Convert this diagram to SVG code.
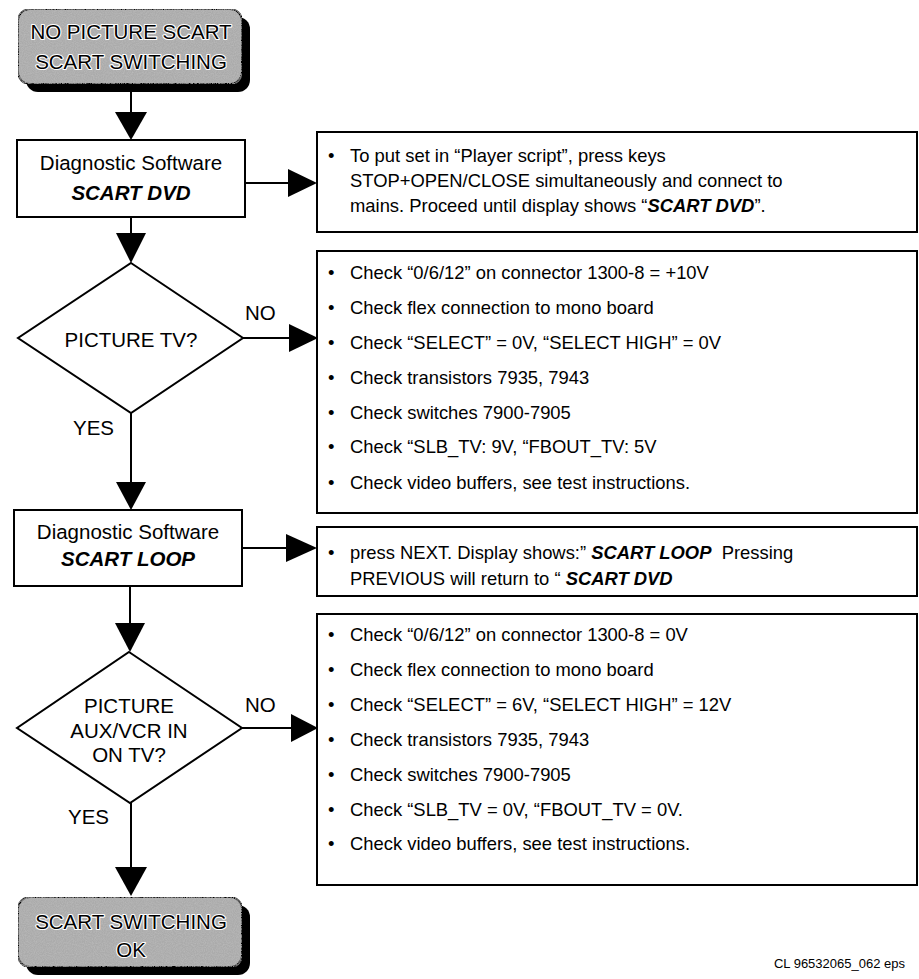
<svg xmlns="http://www.w3.org/2000/svg" width="919" height="979" viewBox="0 0 919 979">
<style>
  .box { fill: #fff; stroke: #000; stroke-width: 2; }
  .line { stroke: #000; stroke-width: 2; fill: none; }
  .head { fill: #000; stroke: none; }
  .t { font-family: "Liberation Sans", Arial, sans-serif; fill: #000; }
  .big { font-size: 20.5px; }
  .body { font-size: 18.4px; }
  .bi { font-weight: bold; font-style: italic; }
  .mid { text-anchor: middle; }
  .term { fill: #ababab; stroke: #000; stroke-width: 2; }
  .shadow { fill: #000; }
  .halo { stroke: #fff; stroke-width: 2.2px; paint-order: stroke; stroke-linejoin: round; }
</style>
<defs>
  <filter id="grain" x="0" y="0" width="100%" height="100%">
    <feTurbulence type="fractalNoise" baseFrequency="0.9" numOctaves="2" seed="3" result="n"/>
    <feColorMatrix in="n" type="matrix" values="0 0 0 0 0.5  0 0 0 0 0.5  0 0 0 0 0.5  0 0 0 1.4 -0.45" result="g"/>
    <feComposite in="g" in2="SourceGraphic" operator="in" result="gc"/>
    <feMerge><feMergeNode in="SourceGraphic"/><feMergeNode in="gc"/></feMerge>
  </filter>
</defs>

<g id="connectors">
  <line class="line" x1="131" y1="92" x2="131" y2="114"/>
  <polygon class="head" points="115,112 147,112 131,140"/>
  <line class="line" x1="245" y1="183" x2="290" y2="183"/>
  <polygon class="head" points="288,169 288,197 317,183"/>
  <line class="line" x1="131" y1="217" x2="131" y2="235"/>
  <polygon class="head" points="116,233 146,233 131,263"/>
  <line class="line" x1="243" y1="338" x2="291" y2="338"/>
  <polygon class="head" points="289,324 289,352 318,338"/>
  <line class="line" x1="131" y1="413" x2="131" y2="484"/>
  <polygon class="head" points="116,482 146,482 131,510"/>
  <line class="line" x1="242" y1="548" x2="288" y2="548"/>
  <polygon class="head" points="286,534 286,562 317,548"/>
  <line class="line" x1="130" y1="586" x2="130" y2="625"/>
  <polygon class="head" points="115,623 145,623 130,652"/>
  <line class="line" x1="242" y1="728" x2="293" y2="728"/>
  <polygon class="head" points="291,714 291,742 318,728"/>
  <line class="line" x1="131" y1="803" x2="131" y2="869"/>
  <polygon class="head" points="115,867 147,867 131,896"/>
  <text class="t big" x="245" y="320">NO</text>
  <text class="t big" x="73" y="435">YES</text>
  <text class="t big" x="245" y="712">NO</text>
  <text class="t big" x="68" y="824">YES</text>
</g>

<g id="start">
  <rect class="shadow" x="26" y="17" width="224" height="75" rx="12"/>
  <rect class="term" x="18" y="9" width="224" height="75" rx="12" filter="url(#grain)"/>
  <text class="t big mid halo" x="131" y="39">NO PICTURE SCART</text>
  <text class="t big mid halo" x="131" y="69">SCART SWITCHING</text>
</g>

<g id="diag-dvd">
  <rect class="box" x="17" y="140" width="228" height="77"/>
  <text class="t big mid" x="131" y="170">Diagnostic Software</text>
  <text class="t big mid bi" x="131" y="200">SCART DVD</text>
</g>

<g id="note-dvd">
  <rect class="box" x="317" y="132" width="600" height="100"/>
  <text class="t body" x="328" y="162">•</text>
  <text class="t body" x="350" y="162">To put set in “Player script”, press keys</text>
  <text class="t body" x="350" y="187">STOP+OPEN/CLOSE simultaneously and connect to</text>
  <text class="t body" x="350" y="212">mains. Proceed until display shows “<tspan class="bi">SCART DVD</tspan>”.</text>
</g>

<g id="q-tv">
  <polygon class="box" points="131,263 243,338 131,413 18,338"/>
  <text class="t big mid" x="131" y="347">PICTURE TV?</text>
</g>

<g id="checks-tv">
  <rect class="box" x="317" y="251" width="600" height="262"/>
  <g class="t body">
    <text x="328" y="279">•</text><text x="350" y="279">Check “0/6/12” on connector 1300-8 = +10V</text>
    <text x="328" y="314">•</text><text x="350" y="314">Check flex connection to mono board</text>
    <text x="328" y="349">•</text><text x="350" y="349">Check “SELECT” = 0V, “SELECT HIGH” = 0V</text>
    <text x="328" y="384">•</text><text x="350" y="384">Check transistors 7935, 7943</text>
    <text x="328" y="419">•</text><text x="350" y="419">Check switches 7900-7905</text>
    <text x="328" y="453">•</text><text x="350" y="453">Check “SLB_TV: 9V, “FBOUT_TV: 5V</text>
    <text x="328" y="489">•</text><text x="350" y="489">Check video buffers, see test instructions.</text>
  </g>
</g>

<g id="diag-loop">
  <rect class="box" x="14" y="510" width="228" height="76"/>
  <text class="t big mid" x="128" y="539">Diagnostic Software</text>
  <text class="t big mid bi" x="128" y="566">SCART LOOP</text>
</g>

<g id="note-loop">
  <rect class="box" x="317" y="527" width="600" height="69"/>
  <text class="t body" x="328" y="559">•</text>
  <text class="t body" x="350" y="559">press NEXT. Display shows:” <tspan class="bi">SCART LOOP</tspan>&#160; Pressing</text>
  <text class="t body" x="350" y="585">PREVIOUS will return to “ <tspan class="bi">SCART DVD</tspan></text>
</g>

<g id="q-aux">
  <polygon class="box" points="129,652 242,728 130,803 17,728"/>
  <text class="t big mid" x="129" y="713">PICTURE</text>
  <text class="t big mid" x="129" y="738">AUX/VCR IN</text>
  <text class="t big mid" x="129" y="762">ON TV?</text>
</g>

<g id="checks-aux">
  <rect class="box" x="317" y="614" width="600" height="271"/>
  <g class="t body">
    <text x="328" y="641">•</text><text x="350" y="641">Check “0/6/12” on connector 1300-8 = 0V</text>
    <text x="328" y="676">•</text><text x="350" y="676">Check flex connection to mono board</text>
    <text x="328" y="711">•</text><text x="350" y="711">Check “SELECT” = 6V, “SELECT HIGH” = 12V</text>
    <text x="328" y="746">•</text><text x="350" y="746">Check transistors 7935, 7943</text>
    <text x="328" y="781">•</text><text x="350" y="781">Check switches 7900-7905</text>
    <text x="328" y="816">•</text><text x="350" y="816">Check “SLB_TV = 0V, “FBOUT_TV = 0V.</text>
    <text x="328" y="850">•</text><text x="350" y="850">Check video buffers, see test instructions.</text>
  </g>
</g>

<g id="end">
  <rect class="shadow" x="26" y="905" width="224" height="70" rx="12"/>
  <rect class="term" x="18" y="897" width="224" height="70" rx="12" filter="url(#grain)"/>
  <text class="t big mid halo" x="131" y="929">SCART SWITCHING</text>
  <text class="t big mid halo" x="131" y="957">OK</text>
</g>

<text class="t" x="905" y="968" font-size="13" text-anchor="end">CL 96532065_062 eps</text>
</svg>
